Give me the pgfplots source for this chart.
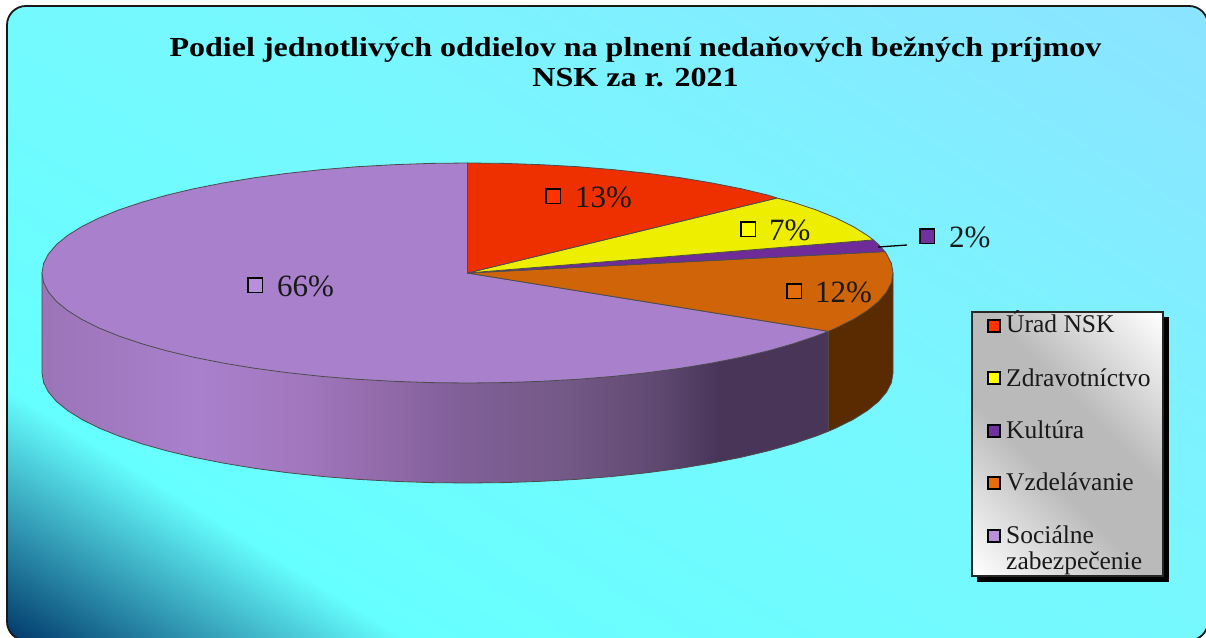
\documentclass[border=0pt]{standalone}
\usepackage{fontspec}
\setmainfont{Liberation Serif}
\usepackage{pgfplots}
\pgfplotsset{compat=1.18}
\definecolor{cred}{HTML}{EE3000}
\definecolor{cyel}{HTML}{EEEE00}
\definecolor{cpur}{HTML}{6F2C99}
\definecolor{cora}{HTML}{D06408}
\definecolor{clil}{HTML}{A980CC}
\definecolor{cwall}{HTML}{5A2A00}
\definecolor{kred}{HTML}{FF3300}
\definecolor{kyel}{HTML}{FFFF00}
\definecolor{kpur}{HTML}{7030A0}
\definecolor{kora}{HTML}{E46C0A}
\definecolor{klil}{HTML}{B98FDC}
\pgfdeclarehorizontalshading{bgshade}{100bp}{rgb(0bp)=(0,.22,.42); rgb(15.5bp)=(0,.22,.42); rgb(28bp)=(.40,1,1); rgb(55bp)=(.47,.97,1); rgb(85bp)=(.55,.89,1); rgb(100bp)=(.55,.89,1)}
\pgfdeclarehorizontalshading{wallshade}{100bp}{rgb(0bp)=(.61,.455,.72); rgb(25bp)=(.61,.455,.72); rgb(35bp)=(.663,.502,.8); rgb(41.4bp)=(.635,.467,.745); rgb(47.7bp)=(.56,.408,.65); rgb(50.9bp)=(.51,.376,.604); rgb(57.9bp)=(.455,.353,.533); rgb(64.3bp)=(.369,.282,.439); rgb(68bp)=(.282,.208,.345); rgb(100bp)=(.282,.208,.345)}
\pgfdeclarehorizontalshading{legshade}{100bp}{rgb(0bp)=(1,1,1); rgb(15bp)=(1,1,1); rgb(42bp)=(.73,.73,.73); rgb(58bp)=(.73,.73,.73); rgb(85bp)=(1,1,1); rgb(100bp)=(1,1,1)}
\begin{document}
\begin{tikzpicture}[x=1pt,y=1pt,
  val/.style={anchor=base west, inner sep=0pt, font=\fontsize{31}{34}\selectfont, text=black!90},
  leg/.style={anchor=base west, inner sep=0pt, font=\fontsize{25.5}{28}\selectfont, text=black!90},
  ttl/.style={anchor=base, inner sep=0pt, xscale=1.165, transform shape, font=\fontsize{27.5}{30}\selectfont\bfseries, text=black},
]
\path[use as bounding box] (0,0) rectangle (1206,637);
\path[shading=bgshade, shading angle=58, rounded corners=19pt] (7,-3.5) rectangle (1208,631);
\draw[black!90, line width=1.8pt, rounded corners=19pt] (7,-3.5) rectangle (1208,631);
\begin{axis}[
  at={(0,0)}, anchor=south west,
  scale only axis, width=1206pt, height=637pt,
  xmin=0, xmax=1206, ymin=0, ymax=637,
  y dir=reverse, hide axis, clip=false,
  slice/.style={draw=black!70, line width=.8pt, line join=round},
  sq/.style={only marks, mark=square*, mark size=7.4pt, mark options={draw=black, line width=1.8pt, fill=#1}},
  lq/.style={only marks, mark=square*, mark size=6pt, mark options={draw=black, line width=1.6pt, fill=#1}},
]
% side walls
\addplot[slice, shading=wallshade] coordinates {(42,273) (42,373) (43.6,382.6) (48.5,392.1) (56.5,401.5) (67.7,410.6) (81.9,419.5) (99,428) (119,436.1) (141.6,443.7) (166.6,450.8) (194,457.3) (223.4,463.1) (254.7,468.3) (287.7,472.7) (322,476.4) (357.4,479.3) (393.6,481.3) (430.4,482.6) (467.5,483) (504.6,482.6) (541.4,481.3) (577.6,479.3) (613,476.4) (647.3,472.7) (680.3,468.3) (711.6,463.1) (741,457.3) (768.4,450.8) (793.4,443.7) (816,436.1) (828.3,431.3) (828.3,331.3)} --cycle;
\addplot[slice, fill=cwall] coordinates {(893,273) (893,373) (891.4,382.6) (886.5,392.1) (878.5,401.5) (867.3,410.6) (853.1,419.5) (836,428) (828.3,431.3) (828.3,331.3)} --cycle;
% top slices
\addplot[slice, fill=clil] coordinates {(467.5,273) (828.3,331.3) (816,336.1) (793.4,343.7) (768.4,350.8) (741,357.3) (711.6,363.1) (680.3,368.3) (647.3,372.7) (613,376.4) (577.6,379.3) (541.4,381.3) (504.6,382.6) (467.5,383) (430.4,382.6) (393.6,381.3) (357.4,379.3) (322,376.4) (287.7,372.7) (254.7,368.3) (223.4,363.1) (194,357.3) (166.6,350.8) (141.6,343.7) (119,336.1) (99,328) (81.9,319.5) (67.7,310.6) (56.5,301.5) (48.5,292.1) (43.6,282.6) (42,273) (43.6,263.4) (48.5,253.9) (56.5,244.5) (67.7,235.4) (81.9,226.5) (99,218) (119,209.9) (141.6,202.3) (166.6,195.2) (194,188.7) (223.4,182.9) (254.7,177.7) (287.7,173.3) (322,169.6) (357.4,166.7) (393.6,164.7) (430.4,163.4) (467.5,163)} --cycle;
\addplot[slice, fill=cora] coordinates {(467.5,273) (884.9,251.6) (886.5,253.9) (891.4,263.4) (893,273) (891.4,282.6) (886.5,292.1) (878.5,301.5) (867.3,310.6) (853.1,319.5) (836,328) (828.3,331.3)} --cycle;
\addplot[slice, fill=cpur] coordinates {(467.5,273) (873.3,239.9) (878.5,244.5) (884.9,251.6)} --cycle;
\addplot[slice, fill=cyel] coordinates {(467.5,273) (777,198) (793.4,202.3) (816,209.9) (836,218) (853.1,226.5) (867.3,235.4) (873.3,239.9)} --cycle;
\addplot[slice, fill=cred] coordinates {(467.5,273) (467.5,163) (504.6,163.4) (541.4,164.7) (577.6,166.7) (613,169.6) (647.3,173.3) (680.3,177.7) (711.6,182.9) (741,188.7) (768.4,195.2) (777,198)} --cycle;
% leader line
\addplot[black, line width=1.3pt] coordinates {(878,247) (907,245)};
% value labels
\addplot[sq=kred] coordinates {(553,196)};
\addplot[sq=kyel] coordinates {(748,229)};
\addplot[sq=kpur] coordinates {(927,236)};
\addplot[sq=kora] coordinates {(794,291)};
\addplot[sq=klil] coordinates {(255,285)};
\node[val] at (axis cs:575,207) {13\%};
\node[val] at (axis cs:769,240) {7\%};
\node[val] at (axis cs:949,247) {2\%};
\node[val] at (axis cs:815,302) {12\%};
\node[val] at (axis cs:277,296) {66\%};
% legend box
\addplot[fill=black, draw=black] coordinates {(977,317) (1168,317) (1168,581) (977,581)} --cycle;
\addplot[draw=black!85, line width=1.3pt, shading=legshade, shading angle=45] coordinates {(972,312) (1163,312) (1163,576) (972,576)} --cycle;
\addplot[lq=kred] coordinates {(994,326)};
\addplot[lq=kyel] coordinates {(994,378)};
\addplot[lq=kpur] coordinates {(994,431)};
\addplot[lq=kora] coordinates {(994,483)};
\addplot[lq=klil] coordinates {(994,536)};
\node[leg] at (axis cs:1006,332) {Úrad NSK};
\node[leg] at (axis cs:1006,386) {Zdravotníctvo};
\node[leg] at (axis cs:1006,438) {Kultúra};
\node[leg] at (axis cs:1006,490) {Vzdelávanie};
\node[leg] at (axis cs:1006,543) {Sociálne};
\node[leg] at (axis cs:1006,569) {zabezpečenie};
% title
\node[ttl] at (axis cs:635.5,56) {Podiel jednotlivých oddielov na plnení nedaňových bežných príjmov};
\node[ttl] at (axis cs:635.5,86) {NSK za r. 2021};
\end{axis}
\end{tikzpicture}
\end{document}
